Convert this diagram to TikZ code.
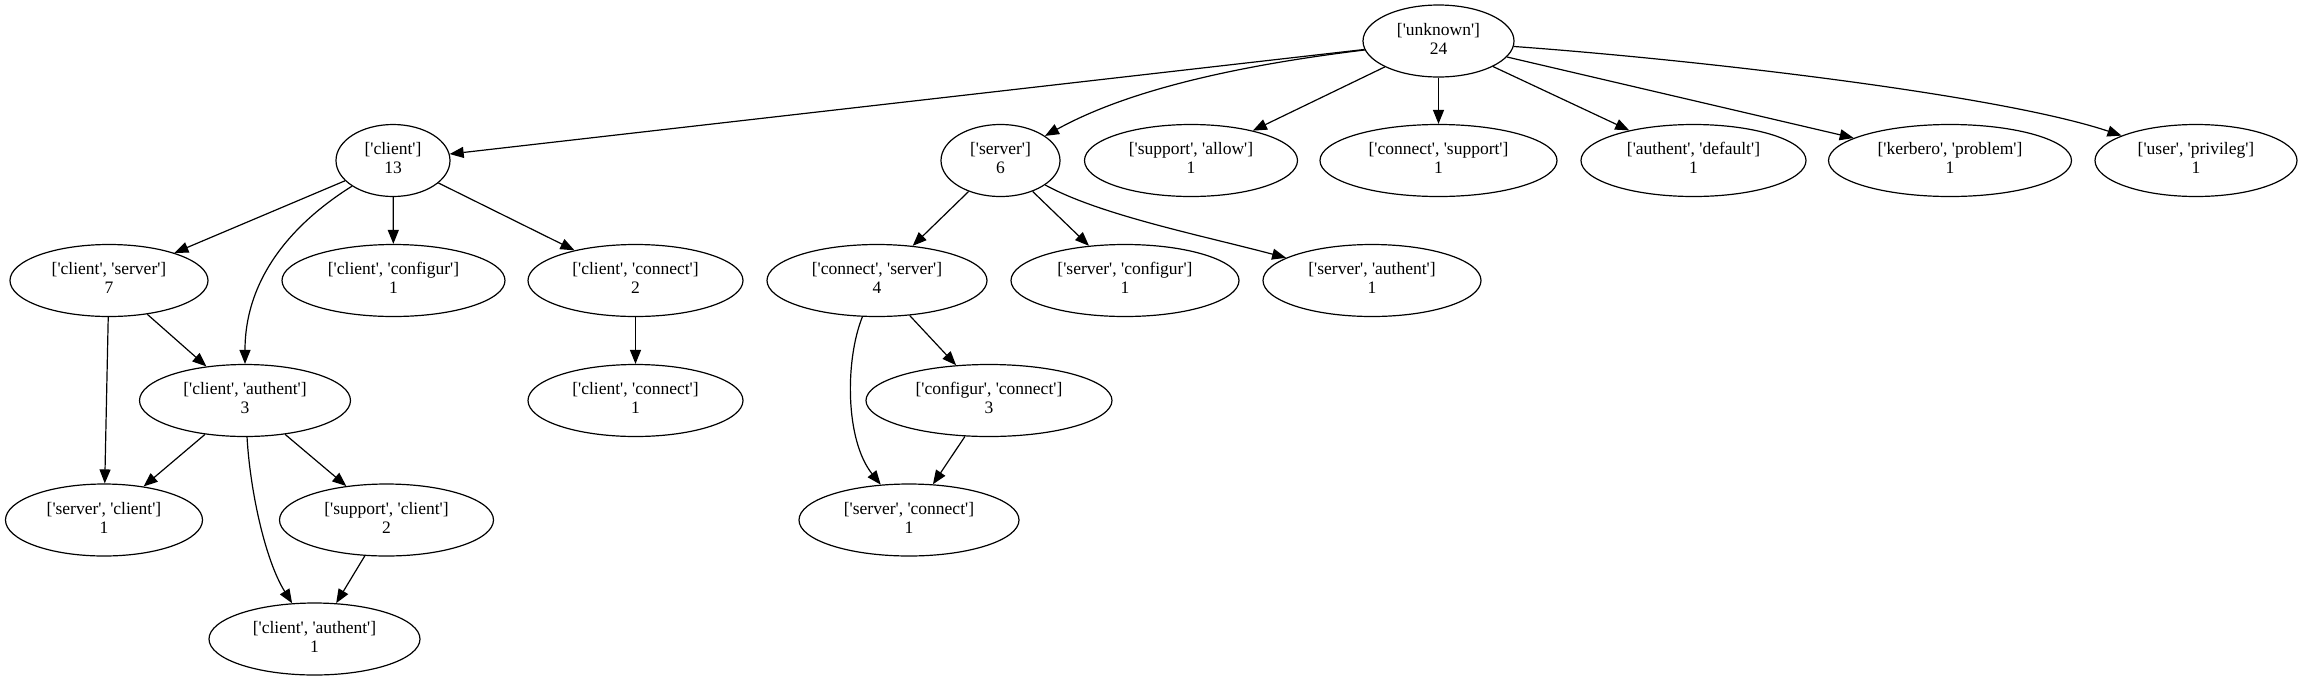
\documentclass[tikz,border=0pt]{standalone}
\usepackage{fontspec}
\setmainfont{Liberation Serif}[Ligatures=TeXOff]
\usetikzlibrary{shapes.geometric,arrows.meta}
\newcommand\lab[2]{\makebox[0pt]{\begin{tabular}{@{}c@{}}#1\\#2\end{tabular}}}
\begin{document}
\begin{tikzpicture}[x=1pt,y=-1pt,
  nd/.style={draw, ellipse, line width=1.2pt, inner sep=0pt, minimum height=72pt,
    font=\fontsize{17.5}{19}\selectfont},
  conn/.style={line width=1.2pt, -{Triangle[length=14pt,width=11pt]}}]
\useasboundingbox (0,0) rectangle (2303,681);
% rank 1
\node[nd, minimum width=151pt] (unknown) at (1438.5,41) {\lab{['unknown']}{24}};
% rank 2
\node[nd, minimum width=114pt] (client) at (393,160.5) {\lab{['client']}{13}};
\node[nd, minimum width=119pt] (server) at (1000.5,160.5) {\lab{['server']}{6}};
\node[nd, minimum width=213pt] (supallow) at (1191,160.5) {\lab{['support', 'allow']}{1}};
\node[nd, minimum width=237pt] (consup) at (1438.5,160.5) {\lab{['connect', 'support']}{1}};
\node[nd, minimum width=225pt] (autdef) at (1693.5,160.5) {\lab{['authent', 'default']}{1}};
\node[nd, minimum width=243pt] (kerprob) at (1950,160.5) {\lab{['kerbero', 'problem']}{1}};
\node[nd, minimum width=202pt] (userpriv) at (2196,160.5) {\lab{['user', 'privileg']}{1}};
% rank 3
\node[nd, minimum width=198pt] (cliserv) at (109,280.5) {\lab{['client', 'server']}{7}};
\node[nd, minimum width=223pt] (cliconf) at (393.5,280.5) {\lab{['client', 'configur']}{1}};
\node[nd, minimum width=215pt] (cliconn) at (635.5,280.5) {\lab{['client', 'connect']}{2}};
\node[nd, minimum width=220pt] (connserv) at (877,280.5) {\lab{['connect', 'server']}{4}};
\node[nd, minimum width=228pt] (servconf) at (1125,280.5) {\lab{['server', 'configur']}{1}};
\node[nd, minimum width=218pt] (servauth) at (1372,280.5) {\lab{['server', 'authent']}{1}};
% rank 4
\node[nd, minimum width=211pt] (cliauthA) at (245,400.5) {\lab{['client', 'authent']}{3}};
\node[nd, minimum width=215pt] (cliconnB) at (635.5,400.5) {\lab{['client', 'connect']}{1}};
\node[nd, minimum width=246pt] (confconn) at (989,400.5) {\lab{['configur', 'connect']}{3}};
% rank 5
\node[nd, minimum width=197pt] (servcli) at (104,520) {\lab{['server', 'client']}{1}};
\node[nd, minimum width=214pt] (supcli) at (386.5,520) {\lab{['support', 'client']}{2}};
\node[nd, minimum width=220pt] (servconn) at (909,520) {\lab{['server', 'connect']}{1}};
% rank 6
\node[nd, minimum width=211pt] (cliauthB) at (314.5,639) {\lab{['client', 'authent']}{1}};
% edges from unknown
\draw[conn] (unknown) -- (client);
\draw[conn] (unknown) .. controls (1200,70) and (1110,100) .. (server);
\draw[conn] (unknown) -- (supallow);
\draw[conn] (unknown) -- (consup);
\draw[conn] (unknown) -- (autdef);
\draw[conn] (unknown) -- (kerprob);
\draw[conn] (unknown) .. controls (1700,60) and (2000,95) .. (userpriv);
% edges from client
\draw[conn] (client) -- (cliserv);
\draw[conn] (client) .. controls (290,225) and (245,280) .. (cliauthA);
\draw[conn] (client) -- (cliconf);
\draw[conn] (client) -- (cliconn);
\draw[conn] (cliserv) -- (servcli);
\draw[conn] (cliserv) -- (cliauthA);
\draw[conn] (cliauthA) -- (servcli);
\draw[conn] (cliauthA) -- (supcli);
\draw[conn] (cliauthA) .. controls (250,490) and (265,560) .. (cliauthB);
\draw[conn] (supcli) -- (cliauthB);
\draw[conn] (cliconn) -- (cliconnB);
% edges from server
\draw[conn] (server) -- (connserv);
\draw[conn] (server) -- (servconf);
\draw[conn] (server) .. controls (1100,215) and (1200,235) .. (servauth);
\draw[conn] (connserv) -- (confconn);
\draw[conn] (connserv) .. controls (845,360) and (845,440) .. (servconn);
\draw[conn] (confconn) -- (servconn);
\end{tikzpicture}
\end{document}
